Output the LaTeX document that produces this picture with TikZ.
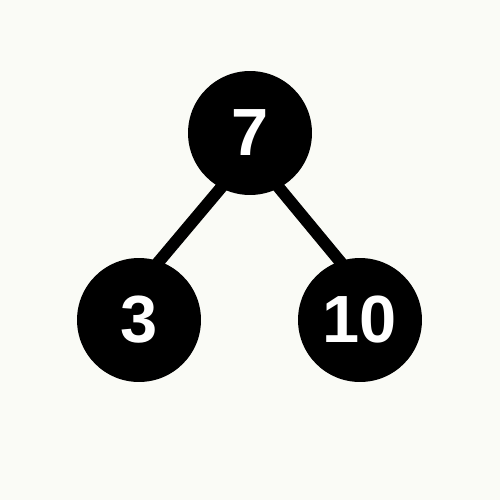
\documentclass[tikz,border=0pt]{standalone}
\usepackage{fontspec}
\setmainfont{Liberation Sans}
\usepackage{tikz}
\usetikzlibrary{positioning}
\usetikzlibrary{backgrounds}
\definecolor{paper}{RGB}{250,251,246}
\tikzstyle{vertex}=[circle,fill=black,draw=none,minimum size=2.48cm,inner sep=0pt,text=white,font=\fontsize{38}{38}\selectfont\bfseries]
\tikzstyle{undirectededge} = [draw,line width=0.24cm,shorten <=-4pt,shorten >=-4pt]

\begin{document}
\begin{tikzpicture}[x=0.02cm,y=-0.02cm]

    \foreach \pos/\name/\label in {{(250,133)/root/7}, {(139,320)/L/3}, {(360,320)/R/10}}
        \node[vertex] (\name) at \pos {\label};

    \begin{scope}[on background layer]
    \fill[paper] (0,0) rectangle (500,500);
    \foreach \source/\dest in {root.242/L.71, root.298/R.109}
        \path[undirectededge] (\source) -- (\dest);
    \end{scope}

\end{tikzpicture}
\end{document}
